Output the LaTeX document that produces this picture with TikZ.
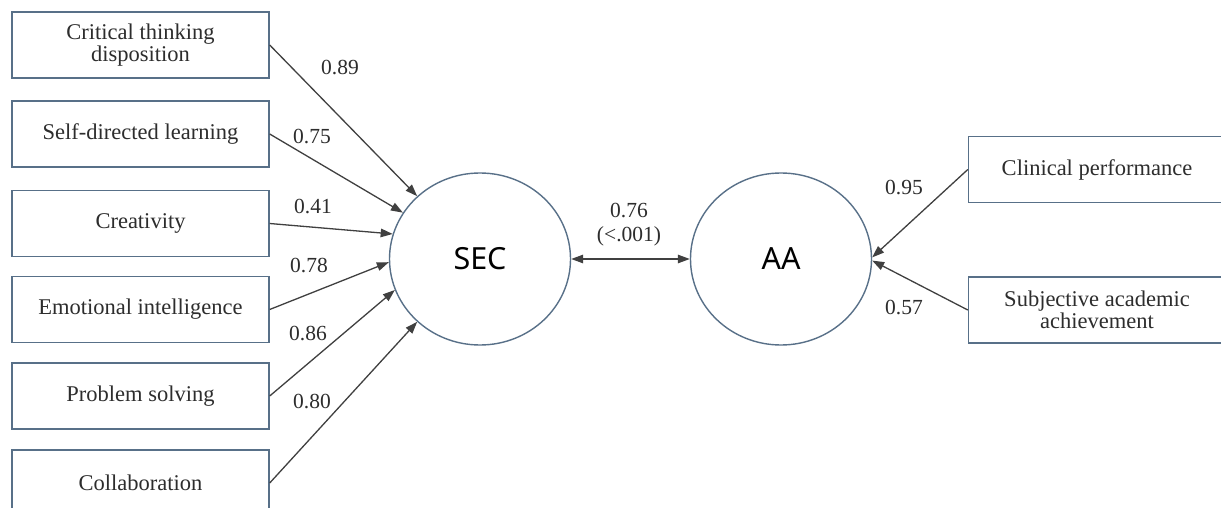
\documentclass[tikz,border=0pt]{standalone}
\usepackage{fontspec}
\setmainfont{Liberation Serif}
\newfontfamily\latfont{Noto Sans}
\usetikzlibrary{shapes.geometric,arrows.meta}
\definecolor{boxc}{RGB}{88,112,136}
\definecolor{arrc}{RGB}{64,64,64}
\definecolor{txtc}{RGB}{45,45,45}
\tikzset{
  obsbox/.style={draw=boxc, line width=1.4pt, minimum width=257pt, minimum height=66pt,
    inner sep=0pt, align=center, text=txtc, font=\fontsize{22.5}{22.5}\selectfont},
  latent/.style={draw=boxc, line width=1.4pt, ellipse, minimum width=181pt, minimum height=172pt,
    inner sep=0pt, text=black, font=\latfont\fontsize{30.5}{34}\selectfont},
  conn/.style={draw=arrc, line width=1.3pt, -{Triangle[length=12pt,width=8.5pt]}},
  biconn/.style={draw=arrc, line width=1.3pt, {Triangle[length=12pt,width=8.5pt]}-{Triangle[length=12pt,width=8.5pt]}},
  coef/.style={inner sep=0pt, text=txtc, font=\fontsize{21.5}{24}\selectfont, align=center}
}
\begin{document}
\begin{tikzpicture}[x=1pt,y=-1pt]
\clip (0,0) rectangle (1221,508);
\fill[white] (0,0) rectangle (1221,508);
% observed indicators (left)
\node[obsbox] (b1) at (140.5,45) {Critical thinking\\disposition};
\node[obsbox] (b2) at (140.5,134) {Self-directed learning};
\node[obsbox] (b3) at (140.5,223.5) {Creativity};
\node[obsbox] (b4) at (140.5,309.5) {Emotional intelligence};
\node[obsbox] (b5) at (140.5,396) {Problem solving};
\node[obsbox] (b6) at (140.5,483) {Collaboration};
% latent variables
\node[latent] (sec) at (480,259) {SEC};
\node[latent] (aa) at (781,259) {AA};
% observed indicators (right)
\node[obsbox] (c1) at (1097,169.5) {Clinical performance};
\node[obsbox] (c2) at (1097,310) {Subjective academic\\achievement};
% connectors
\draw[conn] (b1.east) -- (sec.135);
\draw[conn] (b2.east) -- (sec.149);
\draw[conn] (b3.east) -- (sec.164);
\draw[conn] (b4.east) -- (sec.182);
\draw[conn] (b5.east) -- (sec.200);
\draw[conn] (b6.east) -- (sec.225);
\draw[biconn] (sec.east) -- (aa.west);
\draw[conn] (c1.west) -- (aa.1.5);
\draw[conn] (c2.west) -- (aa.-1.5);
% coefficients
\node[coef] (l1) at (340,68) {0.89};
\node[coef] (l2) at (312,137) {0.75};
\node[coef] (l3) at (313,207) {0.41};
\node[coef] (l4) at (309,266) {0.78};
\node[coef] (l5) at (308,334) {0.86};
\node[coef] (l6) at (312,402) {0.80};
\node[coef] (l7) at (629,225) {0.76\\(<.001)};
\node[coef] (l8) at (904,188) {0.95};
\node[coef] (l9) at (904,308) {0.57};
\end{tikzpicture}
\end{document}
